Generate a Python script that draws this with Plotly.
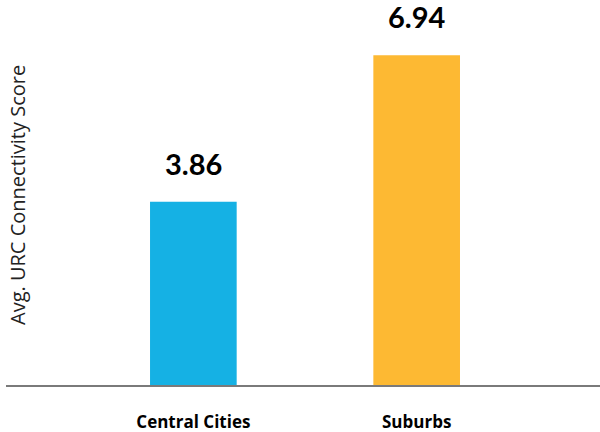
import plotly.graph_objects as go

categories = ["Central Cities", "Suburbs"]
scores = [3.86, 6.94]
bar_colors = ["#15B1E4", "#FDB933"]
y_title = "Avg. URC Connectivity Score"

fig = go.Figure(
    go.Bar(
        x=categories,
        y=scores,
        marker=dict(color=bar_colors, line=dict(width=0)),
        width=0.388,
        hoverinfo="skip",
    )
)

# value labels above each bar
for cat, val in zip(categories, scores):
    fig.add_annotation(
        x=cat, y=val, xref="x", yref="y",
        text=f"{val:.2f}", showarrow=False,
        yanchor="bottom", yshift=19,
        font=dict(family="Lato", size=29, color="#000000", weight="bold"),
    )

# rotated axis title drawn inside the left edge
fig.add_annotation(
    x=(17 - 6) / 594, y=0.5, xref="paper", yref="paper",
    text=y_title, showarrow=False, textangle=-90,
    xanchor="center", yanchor="middle",
    font=dict(family="Open Sans", size=20, color="#222222"),
)

fig.update_layout(
    width=600, height=432,
    margin=dict(l=6, r=0, t=5, b=47),
    paper_bgcolor="white", plot_bgcolor="white",
    showlegend=False,
    xaxis=dict(
        type="category",
        range=[-0.839, 1.821],
        showline=True, linecolor="#7a7a7a", linewidth=1.5,
        showgrid=False, zeroline=False, ticks="",
        ticklabelstandoff=21,
        tickfont=dict(family="Open Sans", size=17, color="#000000", weight="bold"),
    ),
    yaxis=dict(
        range=[0, 8],
        showgrid=False, zeroline=False, showline=False,
        showticklabels=False, ticks="",
    ),
)

fig.write_html("out.html")
